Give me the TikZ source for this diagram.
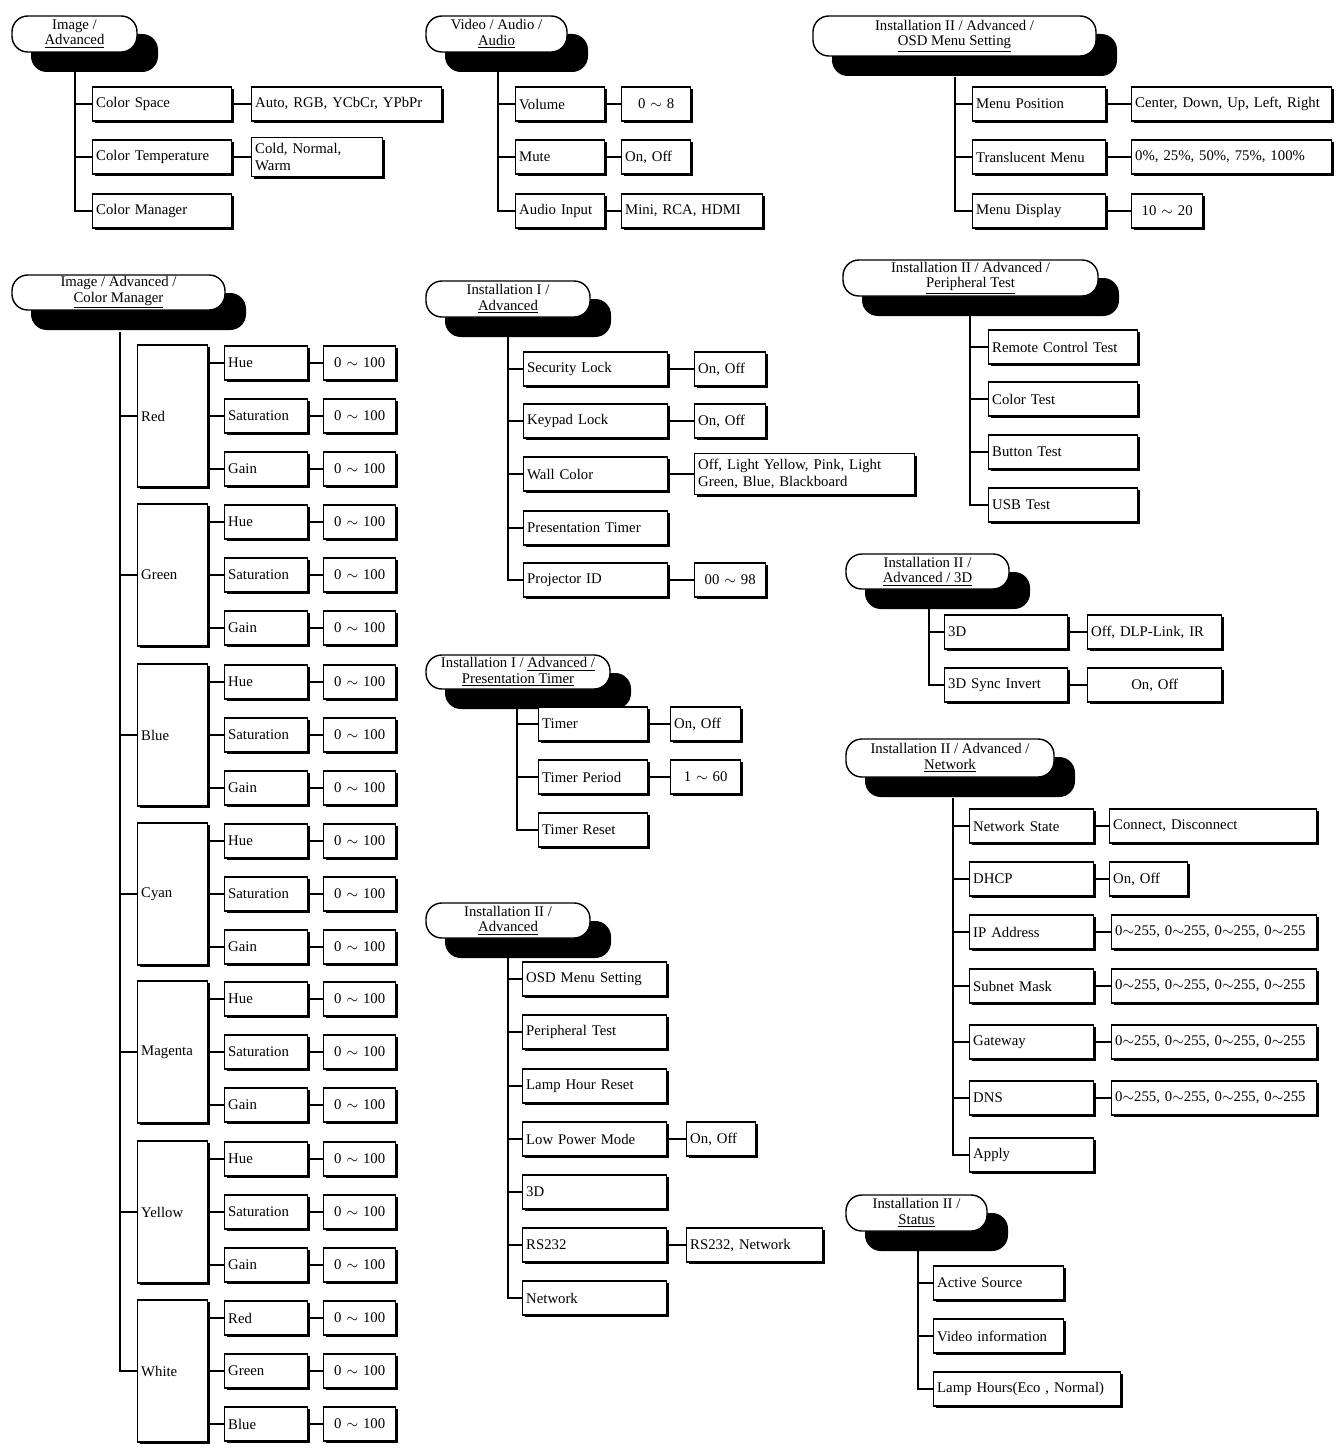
\documentclass[tikz,border=0pt]{standalone}
\usepackage{fontspec}
\setmainfont{Liberation Serif}
\usetikzlibrary{shadows}

% menu header: name, corners, two text lines
\newcommand\menuhead[7]{%
  \fill[rounded corners=9pt] (#2+19,#3+18) rectangle (#4+21,#5+20);
  \draw[line width=0.8pt, fill=white, rounded corners=9pt] (#2,#3) rectangle (#4,#5);
  \node[headtext] (#1) at ({(#2+#4)/2},{(#3+#5)/2}) {#6\\\underline{#7}};}
% menu entry: name, left x, centre y, width, text
\newcommand\itm[5]{\node[item, wd=#4] (#1) at (#2,#3) {#5};}

\begin{document}
\begin{tikzpicture}[x=0.02cm, y=-0.02cm, line width=0.8pt]
  \tikzset{
    item/.style={rectangle, draw, fill=white, anchor=west, align=left, inner xsep=2pt,
      minimum height=0.68cm, font=\fontsize{8.4}{9.6}\selectfont,
      drop shadow={shadow xshift=1.4pt, shadow yshift=-1.4pt, fill=black, opacity=1}},
    wd/.code={\pgfmathsetlengthmacro\itemw{#1*0.02cm-4pt}\tikzset{text width=\itemw}},
    tall/.style={minimum height=2.84cm},
    headtext/.style={align=center, inner sep=0pt, font=\fontsize{8.4}{8.8}\selectfont},
    link/.style={line width=0.9pt}
  }
  \useasboundingbox (0,0) rectangle (1340,1453);

  % Image / Advanced
  \menuhead{hA}{12}{16}{137}{52}{Image /}{Advanced}
  \coordinate (tA) at (75,72);
  \itm{cs}{92}{104}{139}{Color Space}
  \itm{ct}{92}{157}{139}{Color Temperature}
  \itm{cm}{92}{211}{139}{Color Manager}
  \itm{csv}{251}{104}{190}{Auto, RGB, YCbCr, YPbPr}
  \itm{ctv}{251}{157}{131}{Cold, Normal, Warm}
  \foreach \n in {cs,ct,cm} \draw[link] (tA) |- (\n);
  \draw[link] (cs) -- (csv);
  \draw[link] (ct) -- (ctv);

  % Video / Audio / Audio
  \menuhead{hB}{426}{16}{567}{52}{Video / Audio /}{Audio}
  \coordinate (tB) at (498,72);
  \itm{vol}{515}{104}{89}{Volume}
  \itm{mute}{515}{157}{89}{Mute}
  \itm{ain}{515}{211}{89}{Audio Input}
  \itm{volv}{621}{104}{69}{\hfil 0 $\sim$ 8}
  \itm{mutev}{621}{157}{69}{On, Off}
  \itm{ainv}{621}{211}{141}{Mini, RCA, HDMI}
  \foreach \n in {vol,mute,ain} \draw[link] (tB) |- (\n);
  \draw[link] (vol) -- (volv);
  \draw[link] (mute) -- (mutev);
  \draw[link] (ain) -- (ainv);

  % Installation II / Advanced / OSD Menu Setting
  \menuhead{hC}{813}{16}{1096}{56}{Installation II / Advanced /}{OSD Menu Setting}
  \coordinate (tC) at (955,77);
  \itm{mp}{972}{104}{133}{Menu Position}
  \itm{tm}{972}{157}{133}{Translucent Menu}
  \itm{md}{972}{211}{133}{Menu Display}
  \itm{mpv}{1131}{104}{200}{Center, Down, Up, Left, Right}
  \itm{tmv}{1131}{157}{200}{0\%, 25\%, 50\%, 75\%, 100\%}
  \itm{mdv}{1131}{211}{71}{\hfil 10 $\sim$ 20}
  \foreach \n in {mp,tm,md} \draw[link] (tC) |- (\n);
  \draw[link] (mp) -- (mpv);
  \draw[link] (tm) -- (tmv);
  \draw[link] (md) -- (mdv);

  % Image / Advanced / Color Manager
  \menuhead{hD}{12}{275}{225}{310}{Image / Advanced /}{Color Manager}
  \coordinate (tD) at (120,332);
  \foreach \c/\cy/\sa/\sb/\sc in {Red/416/Hue/Saturation/Gain, Green/575/Hue/Saturation/Gain,
      Blue/735/Hue/Saturation/Gain, Cyan/894/Hue/Saturation/Gain,
      Magenta/1052/Hue/Saturation/Gain, Yellow/1212/Hue/Saturation/Gain,
      White/1371/Red/Green/Blue} {
    \node[item, wd=70, tall] (\c) at (137,\cy) {\c};
    \draw[link] (tD) |- (\c);
    \foreach \s/\dy in {\sa/-53, \sb/0, \sc/53} {
      \node[item, wd=83] (\c\s) at (224,\cy+\dy) {\s};
      \node[item, wd=72] (\c\s v) at (323,\cy+\dy) {\hfil 0 $\sim$ 100};
      \draw[link] (\c.east |- \c\s.west) -- (\c\s);
      \draw[link] (\c\s) -- (\c\s v);
    }
  }

  % Installation I / Advanced
  \menuhead{hE}{426}{281}{590}{317}{Installation I /}{Advanced}
  \coordinate (tE) at (508,337);
  \itm{sl}{523}{369}{144}{Security Lock}
  \itm{kl}{523}{421}{144}{Keypad Lock}
  \itm{wc}{523}{474}{144}{Wall Color}
  \itm{pt}{523}{528}{144}{Presentation Timer}
  \itm{pid}{523}{580}{144}{Projector ID}
  \itm{slv}{694}{369}{71}{On, Off}
  \itm{klv}{694}{421}{71}{On, Off}
  \itm{wcv}{694}{474}{220}{Off, Light Yellow, Pink, Light\\Green, Blue, Blackboard}
  \itm{pidv}{694}{580}{71}{\hfil 00 $\sim$ 98}
  \foreach \n in {sl,kl,wc,pt,pid} \draw[link] (tE) |- (\n);
  \draw[link] (sl) -- (slv);
  \draw[link] (kl) -- (klv);
  \draw[link] (wc) -- (wcv);
  \draw[link] (pid) -- (pidv);

  % Installation I / Advanced / Presentation Timer
  \menuhead{hF}{426}{655}{610}{689}{Installation I / \underline{Advanced /}}{Presentation Timer}
  \coordinate (tF) at (517,708);
  \itm{tim}{538}{724}{109}{Timer}
  \itm{tper}{538}{777}{109}{Timer Period}
  \itm{tres}{538}{830}{109}{Timer Reset}
  \itm{timv}{670}{724}{70}{On, Off}
  \itm{tperv}{670}{777}{70}{\hfil 1 $\sim$ 60}
  \foreach \n in {tim,tper,tres} \draw[link] (tF) |- (\n);
  \draw[link] (tim) -- (timv);
  \draw[link] (tper) -- (tperv);

  % Installation II / Advanced
  \menuhead{hG}{426}{903}{590}{938}{Installation II /}{Advanced}
  \coordinate (tG) at (508,958);
  \itm{osd}{522}{979}{144}{OSD Menu Setting}
  \itm{per}{522}{1032}{144}{Peripheral Test}
  \itm{lhr}{522}{1086}{144}{Lamp Hour Reset}
  \itm{lpm}{522}{1139}{144}{Low Power Mode}
  \itm{tdd}{522}{1192}{144}{3D}
  \itm{rs}{522}{1245}{144}{RS232}
  \itm{net}{522}{1298}{144}{Network}
  \itm{lpmv}{686}{1139}{69}{On, Off}
  \itm{rsv}{686}{1245}{136}{RS232, Network}
  \foreach \n in {osd,per,lhr,lpm,tdd,rs,net} \draw[link] (tG) |- (\n);
  \draw[link] (lpm) -- (lpmv);
  \draw[link] (rs) -- (rsv);

  % Installation II / Advanced / Peripheral Test
  \menuhead{hH}{843}{260}{1098}{296}{Installation II / Advanced /}{Peripheral Test}
  \coordinate (tH) at (970,315);
  \itm{rct}{988}{347}{149}{Remote Control Test}
  \itm{colt}{988}{399}{149}{Color Test}
  \itm{btt}{988}{452}{149}{Button Test}
  \itm{usbt}{988}{505}{149}{USB Test}
  \foreach \n in {rct,colt,btt,usbt} \draw[link] (tH) |- (\n);

  % Installation II / Advanced / 3D
  \menuhead{hI}{846}{554}{1009}{589}{Installation II /}{Advanced / 3D}
  \coordinate (tI) at (929,609);
  \itm{thd}{944}{632}{123}{3D}
  \itm{tsi}{944}{685}{123}{3D Sync Invert}
  \itm{thdv}{1087}{632}{134}{Off, DLP-Link, IR}
  \itm{tsiv}{1087}{685}{134}{\hfil On, Off}
  \foreach \n in {thd,tsi} \draw[link] (tI) |- (\n);
  \draw[link] (thd) -- (thdv);
  \draw[link] (tsi) -- (tsiv);

  % Installation II / Advanced / Network
  \menuhead{hJ}{846}{739}{1054}{777}{Installation II / Advanced /}{Network}
  \coordinate (tJ) at (953,798);
  \itm{ns}{969}{826}{124}{Network State}
  \itm{dhcp}{969}{879}{124}{DHCP}
  \itm{ip}{969}{932}{124}{IP Address}
  \itm{sm}{969}{986}{124}{Subnet Mask}
  \itm{gw}{969}{1042}{124}{Gateway}
  \itm{dns}{969}{1098}{124}{DNS}
  \itm{app}{969}{1155}{124}{Apply}
  \itm{nsv}{1109}{826}{207}{Connect, Disconnect}
  \itm{dhcpv}{1109}{879}{78}{On, Off}
  \foreach \n/\y in {ip/932,sm/986,gw/1042,dns/1098} {
    \itm{\n v}{1111}{\y}{205}{0$\sim$255, 0$\sim$255, 0$\sim$255, 0$\sim$255}
    \draw[link] (\n) -- (\n v);
  }
  \foreach \n in {ns,dhcp,ip,sm,gw,dns,app} \draw[link] (tJ) |- (\n);
  \draw[link] (ns) -- (nsv);
  \draw[link] (dhcp) -- (dhcpv);

  % Installation II / Status
  \menuhead{hK}{846}{1195}{987}{1231}{Installation II /}{Status}
  \coordinate (tK) at (918,1250);
  \itm{as}{933}{1283}{130}{Active Source}
  \itm{vi}{933}{1336}{130}{Video information}
  \itm{lh}{933}{1389}{187}{Lamp Hours(Eco , Normal)}
  \foreach \n in {as,vi,lh} \draw[link] (tK) |- (\n);
\end{tikzpicture}
\end{document}
